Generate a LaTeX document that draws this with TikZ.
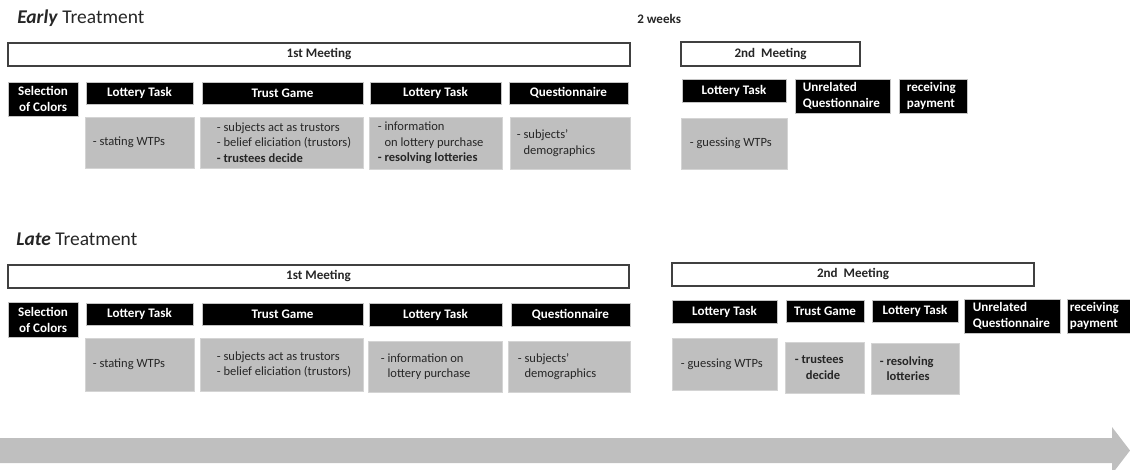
\documentclass[tikz,border=0pt]{standalone}
\usepackage{fontspec}
\setmainfont{Carlito}
\definecolor{boxgray}{HTML}{BFBFBF}
\definecolor{edgegray}{HTML}{D4D4D4}
\definecolor{blkedge}{HTML}{C4C4C4}
\definecolor{meetedge}{HTML}{404040}
\definecolor{txt}{HTML}{262626}
\newcommand\bfnt{\fontsize{9.8}{12}\selectfont\bfseries}
\newcommand\gfnt{\fontsize{9.4}{11.75}\selectfont}
% black box, centred text: [opts]{name}{x1}{y1}{x2}{y2}{text}
\newcommand\bb[7][]{\node[blk,minimum width={(#5-#3)*0.75pt},minimum height={(#6-#4)*0.75pt},#1] (#2) at ({(#3+#5)/2},{(#4+#6)/2}) {#7};}
% black box, left text with inset: {name}{x1}{y1}{x2}{y2}{inset}{text}
\newcommand\bl[7]{\node[blk,minimum width={(#4-#2)*0.75pt},minimum height={(#5-#3)*0.75pt}] (#1) at ({(#2+#4)/2},{(#3+#5)/2}) {};
  \node[btxt,anchor=west] (#1-t) at ([xshift=#6*0.75pt]#1.west) {#7};}
% grey box with left text
\newcommand\gb[7]{\node[gry,minimum width={(#4-#2)*0.75pt},minimum height={(#5-#3)*0.75pt}] (#1) at ({(#2+#4)/2},{(#3+#5)/2}) {};
  \node[gtxt,anchor=west] (#1-t) at ([xshift=#6*0.75pt]#1.west) {#7};}
% meeting box
\newcommand\mb[6]{\node[meet,minimum width={(#4-#2)*0.75pt},minimum height={(#5-#3)*0.75pt}] (#1) at ({(#2+#4)/2},{(#3+#5)/2}) {#6};}
\begin{document}
\begin{tikzpicture}[x=0.75pt,y=-0.75pt,
  blk/.style={fill=black,draw=blkedge,line width=0.6pt,text=white,font=\bfnt,inner sep=0pt,align=center},
  btxt/.style={text=white,font=\bfnt,inner sep=0pt,align=left},
  gry/.style={fill=boxgray,draw=edgegray,line width=0.6pt,inner sep=0pt},
  gtxt/.style={font=\gfnt,align=left,inner sep=0pt,text=txt},
  meet/.style={fill=white,draw=meetedge,line width=0.9pt,font=\bfnt,text=txt,inner sep=0pt},
  title/.style={font=\fontsize{14.6}{17}\selectfont,text=txt,inner sep=0pt,anchor=base west}]
\useasboundingbox (0,0) rectangle (1130,469);

% ---------- Early ----------
\node[title] (early) at (17,23) {\textbf{\textit{Early}} Treatment};
\node[font=\bfnt,text=txt,anchor=base west,inner sep=0pt] (weeks) at (637,23.5) {2 weeks};
\mb{e-m1}{8}{43}{630}{66}{1st Meeting}
\mb{e-m2}{681}{42}{860}{66}{2nd\ \ Meeting}
\bb{e-sel}{8}{82}{78}{116}{Selection\\of Colors}
\bb{e-lt1}{86}{82}{193}{104}{Lottery Task}
\bb{e-tg}{202}{82}{363}{104}{Trust Game}
\bb{e-lt2}{370}{82}{501}{104}{Lottery Task}
\bb{e-q}{509}{82}{628}{104}{Questionnaire}
\bb{e-lt3}{682}{79}{786}{102}{Lottery Task}
\bl{e-uq}{795}{79}{890}{113}{8}{Unrelated\\Questionnaire}
\bl{e-pay}{899}{79}{967}{113}{8}{receiving\\payment}
\gb{e-g1}{85}{117}{194}{168}{8}{- stating WTPs}
\gb{e-g2}{200}{117}{363}{168}{17}{- subjects act as trustors\\- belief eliciation (trustors)\\\textbf{- trustees decide}}
\gb{e-g3}{369}{117}{502}{169}{9}{- information\\\hphantom{-}\ on lottery purchase\\\textbf{- resolving lotteries}}
\gb{e-g4}{510}{117}{630}{169}{7}{- subjects’\\\hphantom{-}\ demographics}
\gb{e-g5}{681}{118}{787}{169}{9}{- guessing WTPs}

% ---------- Late ----------
\node[title] (late) at (16,245) {\textbf{\textit{Late}} Treatment};
\mb{l-m1}{8}{265}{629}{288}{1st Meeting}
\mb{l-m2}{672}{263}{1034}{286}{2nd\ \ Meeting}
\bb{l-sel}{8}{302}{78}{337}{Selection\\of Colors}
\bb{l-lt1}{86}{303}{193}{325}{Lottery Task}
\bb{l-tg}{202}{303}{363}{325}{Trust Game}
\bb{l-lt2}{369}{303}{502}{326}{Lottery Task}
\bb{l-q}{511}{303}{630}{326}{Questionnaire}
\bb{l-lt3}{672}{300}{777}{323}{Lottery Task}
\bb{l-tg2}{786}{300}{864}{322}{Trust Game}
\bb{l-lt4}{872}{300}{958}{322}{Lottery Task}
\bl{l-uq}{964}{299}{1060}{333}{9}{Unrelated\\Questionnaire}
\bl{l-pay}{1067}{299}{1133}{333}{3}{receiving\\payment}
\gb{l-g1}{85}{338}{194}{391}{8}{- stating WTPs}
\gb{l-g2}{200}{338}{363}{391}{17}{- subjects act as trustors\\- belief eliciation (trustors)}
\gb{l-g3}{368}{341}{502}{392}{13}{- information on\\\hphantom{-}\ lottery purchase}
\gb{l-g4}{508}{341}{630}{392}{10}{- subjects’\\\hphantom{-}\ demographics}
\gb{l-g5}{672}{338}{777}{390}{9}{- guessing WTPs}
\gb{l-g6}{785}{342}{864}{393}{10}{\textbf{- trustees}\\\hspace*{8.25pt}\textbf{decide}}
\gb{l-g7}{871}{343}{959}{394}{9}{\textbf{- resolving}\\\textbf{\hphantom{-}\ lotteries}}

% ---------- time arrow ----------
\begin{scope}
\clip (0,0) rectangle (1130,469);
\fill[boxgray] (0,438) -- (1112,438) -- (1112,427) -- (1130,450.5) -- (1112,474) -- (1112,463) -- (0,463) -- cycle;
\end{scope}
\end{tikzpicture}
\end{document}
